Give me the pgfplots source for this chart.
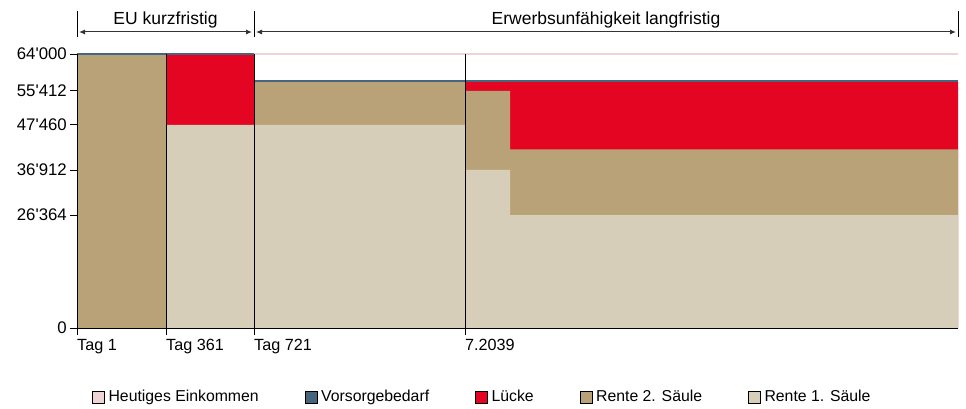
\documentclass[border=0pt]{standalone}
\usepackage{pgfplots}
\pgfplotsset{compat=1.18}
\usepackage{fontspec}
\setmainfont{Liberation Sans}[Ligatures=TeXOff]
\usetikzlibrary{arrows.meta}
\definecolor{pinkc}{HTML}{EFD3D5}
\definecolor{bluec}{HTML}{46657F}
\definecolor{redc}{HTML}{E30521}
\definecolor{tanc}{HTML}{B9A277}
\definecolor{beigec}{HTML}{D6CEB8}
\begin{document}
\fontsize{15.8}{18}\selectfont
\begin{tikzpicture}[x=1pt,y=1pt,font=\fontsize{15.8}{18}\selectfont]
\useasboundingbox (0,0) rectangle (966,408);
\begin{axis}[at={(77pt,80pt)}, anchor=south west, scale only axis,
  width=881pt, height=274pt, xmin=0, xmax=881, ymin=0, ymax=64000,
  clip=false, axis on top,
  axis x line=bottom, axis y line=left,
  axis line style={-, black, line width=0.9pt},
  tick align=outside, major tick length=7pt,
  tick style={black, line width=0.9pt},
  scaled y ticks=false, scaled x ticks=false,
  xtick={0,89,177,388}, xticklabels={Tag 1, Tag 361, Tag 721, 7.2039},
  ytick={0,26364,36912,47460,55412,64000},
  yticklabels={0,26'364,36'912,47'460,55'412,64'000},
  xticklabel style={anchor=north west, inner sep=0pt, yshift=-4pt, font=\fontsize{16.2}{18}\selectfont},
  yticklabel style={anchor=east, inner sep=0pt, xshift=-3pt, font=\fontsize{16.8}{18}\selectfont},
  legend columns=5,
  legend cell align=left,
  legend style={at={(axis description cs:0.017,-0.252)}, anchor=west,
    draw=none, fill=none, inner sep=0pt,
    /tikz/every even column/.append style={column sep=44pt},
    /tikz/every odd column/.append style={column sep=2pt}},
  legend image code/.code={\fill[#1] (0pt,-6pt) rectangle (12pt,6pt);},
]
% Luecke (red), painted first
\addplot[const plot mark left, fill=redc, draw=none, forget plot]
  coordinates {(0,64000) (177,57600) (881,57600)} \closedcycle;
% Rente 2. Saeule (tan)
\addplot[const plot mark left, fill=tanc, draw=none, forget plot]
  coordinates {(0,64000) (89,0) (177,57600) (388,55412) (433,41740) (881,41740)} \closedcycle;
% Rente 1. Saeule (beige)
\addplot[const plot mark left, fill=beigec, draw=none, forget plot]
  coordinates {(0,0) (89,47460) (388,36912) (433,26364) (881,26364)} \closedcycle;
% Heutiges Einkommen
\addplot[pinkc, line width=2pt, forget plot] coordinates {(0,64000) (881,64000)};
% Vorsorgebedarf
\addplot[bluec, line width=2pt, forget plot] coordinates {(0,64000) (177,64000)};
\addplot[bluec, line width=2pt, forget plot] coordinates {(177,57600) (881,57600)};
% separators
\draw[black, line width=0.9pt] (axis cs:89,0) -- (axis cs:89,64000);
\draw[black, line width=0.9pt] (axis cs:177,0) -- (axis cs:177,64000);
\draw[black, line width=0.9pt] (axis cs:388,0) -- (axis cs:388,64000);
\addlegendimage{fill=pinkc}
\addlegendentry{Heutiges Einkommen}
\addlegendimage{fill=bluec}
\addlegendentry{Vorsorgebedarf}
\addlegendimage{fill=redc}
\addlegendentry{Lücke}
\addlegendimage{fill=tanc}
\addlegendentry{Rente 2. Säule}
\addlegendimage{fill=beigec}
\addlegendentry{Rente 1. Säule}
\end{axis}
\draw[black, line width=0.9pt] (77,397) -- (77,371);
\draw[black, line width=0.9pt] (254,397) -- (254,371);
\draw[black, line width=0.9pt] (958,397) -- (958,371);
\draw[black!80, line width=1pt, {Latex[length=6pt,width=5pt]}-{Latex[length=6pt,width=5pt]}] (79,376) -- (252,376);
\draw[black!80, line width=1pt, {Latex[length=6pt,width=5pt]}-{Latex[length=6pt,width=5pt]}] (256,376) -- (956,376);
\node[anchor=base, font=\fontsize{17.5}{20}\selectfont] at (165.5,383) {EU kurzfristig};
\node[anchor=base, font=\fontsize{17.5}{20}\selectfont] at (606,383) {Erwerbsunfähigkeit langfristig};
\end{tikzpicture}
\end{document}
